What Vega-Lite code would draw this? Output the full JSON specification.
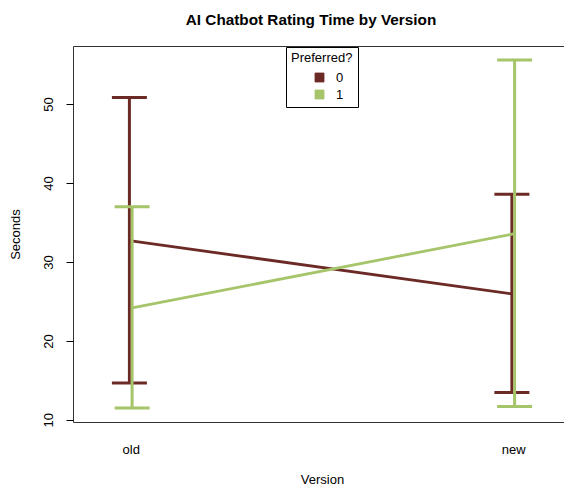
{
  "$schema": "https://vega.github.io/schema/vega-lite/v6.json",
  "width": 498,
  "height": 376,
  "autosize": {"type": "none"},
  "padding": {"left": 73, "top": 46, "right": 0, "bottom": 69},
  "background": "white",
  "config": {
    "view": {"stroke": "#333333", "strokeWidth": 1},
    "font": "Liberation Sans",
    "axis": {"labelFont": "Liberation Sans", "titleFont": "Liberation Sans"},
    "legend": {"labelFont": "Liberation Sans", "titleFont": "Liberation Sans"},
    "tick": {"opacity": 1}
  },
  "title": {
    "text": "AI Chatbot Rating Time by Version",
    "fontSize": 15.3,
    "fontWeight": "bold",
    "font": "Liberation Sans",
    "color": "black",
    "anchor": "middle",
    "frame": "group",
    "baseline": "alphabetic",
    "offset": 6,
    "dx": -11
  },
  "data": {
    "values": [
      {"version": "old", "vcode": 1, "pref": "0", "mean": 32.7, "lo": 14.66, "hi": 50.85},
      {"version": "old", "vcode": 1, "pref": "1", "mean": 24.18, "lo": 11.49, "hi": 37.0},
      {"version": "new", "vcode": 2, "pref": "0", "mean": 25.96, "lo": 13.47, "hi": 38.57},
      {"version": "new", "vcode": 2, "pref": "1", "mean": 33.58, "lo": 11.69, "hi": 55.6}
    ]
  },
  "encoding": {
    "x": {
      "field": "vcode",
      "type": "quantitative",
      "scale": {"domain": [0.849, 2.151], "nice": false, "zero": false},
      "axis": {
        "values": [1, 2],
        "labelExpr": "datum.value == 1 ? 'old' : 'new'",
        "ticks": false,
        "tickSize": 0,
        "domain": false,
        "grid": false,
        "labelFlush": false,
        "labelPadding": 27,
        "labelBaseline": "middle",
        "labelFontSize": 13,
        "labelColor": "black",
        "title": "Version",
        "titleFontSize": 13,
        "titleFontWeight": "normal",
        "titleColor": "black",
        "titleY": 57,
        "titleBaseline": "middle"
      }
    }
  },
  "layer": [
    {
      "mark": {"type": "square", "opacity": 0, "filled": true},
      "encoding": {
        "y": {"field": "mean", "type": "quantitative",
          "scale": {"domain": [9.73, 57.36], "nice": false, "zero": false},
          "axis": {"values": [10, 20, 30, 40, 50], "labelAngle": 270, "labelAlign": "center", "labelBaseline": "middle", "labelPadding": 18, "tickSize": 7, "tickColor": "black", "tickWidth": 1, "domain": false, "grid": false, "labelFontSize": 13, "labelColor": "black", "title": "Seconds", "titleFontSize": 13, "titleFontWeight": "normal", "titleColor": "black", "titleAngle": 270, "titleX": -58, "titleY": 188, "titleAlign": "center", "titleBaseline": "middle"}},
        "color": {
          "field": "pref",
          "type": "nominal",
          "scale": {"domain": ["0", "1"], "range": ["#6C2A26", "#A6C46A"]},
          "legend": {"title": "Preferred?", "orient": "none", "legendX": 213, "legendY": 1, "strokeColor": "black", "fillColor": "white", "padding": 5, "titleFontSize": 13, "titleFontWeight": "normal", "titleColor": "black", "titlePadding": 6, "labelFontSize": 13, "labelColor": "black", "symbolType": "square", "symbolSize": 81, "symbolOffset": 22, "labelOffset": 10, "rowPadding": 3, "symbolOpacity": 1, "symbolStrokeColor": "black", "symbolStrokeWidth": 0.8, "encode": {"symbols": {"update": {"opacity": {"value": 1}, "fill": {"scale": "color", "field": "value"}, "stroke": {"value": "black"}, "strokeWidth": {"value": 0.8}, "size": {"value": 81}, "shape": {"value": "square"}}}}}
        }
      }
    },
    {
      "transform": [{"filter": {"field": "pref", "equal": "0"}}],
      "layer": [
        {
          "mark": {"type": "rule", "strokeWidth": 3, "xOffset": -1.35},
          "encoding": {
            "y": {"field": "lo", "type": "quantitative",
              "axis": {"values": [10, 20, 30, 40, 50], "labelAngle": 270, "labelAlign": "center", "labelBaseline": "middle", "labelPadding": 18, "tickSize": 7, "tickColor": "black", "tickWidth": 1, "domain": false, "grid": false, "labelFontSize": 13, "labelColor": "black", "title": "Seconds", "titleFontSize": 13, "titleFontWeight": "normal", "titleColor": "black", "titleAngle": 270, "titleX": -58, "titleY": 188, "titleAlign": "center", "titleBaseline": "middle"}},
            "y2": {"field": "hi"},
            "color": {"field": "pref", "type": "nominal",
              "legend": {"title": "Preferred?", "orient": "none", "legendX": 213, "legendY": 1, "strokeColor": "black", "fillColor": "white", "padding": 5, "titleFontSize": 13, "titleFontWeight": "normal", "titleColor": "black", "titlePadding": 6, "labelFontSize": 13, "labelColor": "black", "symbolType": "square", "symbolSize": 81, "symbolOffset": 22, "labelOffset": 10, "rowPadding": 3, "symbolOpacity": 1, "symbolStrokeColor": "black", "symbolStrokeWidth": 0.8, "encode": {"symbols": {"update": {"opacity": {"value": 1}, "fill": {"scale": "color", "field": "value"}, "stroke": {"value": "black"}, "strokeWidth": {"value": 0.8}, "size": {"value": 81}, "shape": {"value": "square"}}}}}}
          }
        },
        {
          "mark": {"type": "tick", "orient": "horizontal", "size": 35, "thickness": 3, "opacity": 1, "xOffset": -1.35},
          "encoding": {
            "y": {"field": "lo", "type": "quantitative",
              "axis": {"values": [10, 20, 30, 40, 50], "labelAngle": 270, "labelAlign": "center", "labelBaseline": "middle", "labelPadding": 18, "tickSize": 7, "tickColor": "black", "tickWidth": 1, "domain": false, "grid": false, "labelFontSize": 13, "labelColor": "black", "title": "Seconds", "titleFontSize": 13, "titleFontWeight": "normal", "titleColor": "black", "titleAngle": 270, "titleX": -58, "titleY": 188, "titleAlign": "center", "titleBaseline": "middle"}},
            "color": {"field": "pref", "type": "nominal",
              "legend": {"title": "Preferred?", "orient": "none", "legendX": 213, "legendY": 1, "strokeColor": "black", "fillColor": "white", "padding": 5, "titleFontSize": 13, "titleFontWeight": "normal", "titleColor": "black", "titlePadding": 6, "labelFontSize": 13, "labelColor": "black", "symbolType": "square", "symbolSize": 81, "symbolOffset": 22, "labelOffset": 10, "rowPadding": 3, "symbolOpacity": 1, "symbolStrokeColor": "black", "symbolStrokeWidth": 0.8, "encode": {"symbols": {"update": {"opacity": {"value": 1}, "fill": {"scale": "color", "field": "value"}, "stroke": {"value": "black"}, "strokeWidth": {"value": 0.8}, "size": {"value": 81}, "shape": {"value": "square"}}}}}}
          }
        },
        {
          "mark": {"type": "tick", "orient": "horizontal", "size": 35, "thickness": 3, "opacity": 1, "xOffset": -1.35},
          "encoding": {
            "y": {"field": "hi", "type": "quantitative",
              "axis": {"values": [10, 20, 30, 40, 50], "labelAngle": 270, "labelAlign": "center", "labelBaseline": "middle", "labelPadding": 18, "tickSize": 7, "tickColor": "black", "tickWidth": 1, "domain": false, "grid": false, "labelFontSize": 13, "labelColor": "black", "title": "Seconds", "titleFontSize": 13, "titleFontWeight": "normal", "titleColor": "black", "titleAngle": 270, "titleX": -58, "titleY": 188, "titleAlign": "center", "titleBaseline": "middle"}},
            "color": {"field": "pref", "type": "nominal",
              "legend": {"title": "Preferred?", "orient": "none", "legendX": 213, "legendY": 1, "strokeColor": "black", "fillColor": "white", "padding": 5, "titleFontSize": 13, "titleFontWeight": "normal", "titleColor": "black", "titlePadding": 6, "labelFontSize": 13, "labelColor": "black", "symbolType": "square", "symbolSize": 81, "symbolOffset": 22, "labelOffset": 10, "rowPadding": 3, "symbolOpacity": 1, "symbolStrokeColor": "black", "symbolStrokeWidth": 0.8, "encode": {"symbols": {"update": {"opacity": {"value": 1}, "fill": {"scale": "color", "field": "value"}, "stroke": {"value": "black"}, "strokeWidth": {"value": 0.8}, "size": {"value": 81}, "shape": {"value": "square"}}}}}}
          }
        },
        {
          "mark": {"type": "line", "strokeWidth": 2.8, "xOffset": -1.35},
          "encoding": {
            "y": {"field": "mean", "type": "quantitative",
              "axis": {"values": [10, 20, 30, 40, 50], "labelAngle": 270, "labelAlign": "center", "labelBaseline": "middle", "labelPadding": 18, "tickSize": 7, "tickColor": "black", "tickWidth": 1, "domain": false, "grid": false, "labelFontSize": 13, "labelColor": "black", "title": "Seconds", "titleFontSize": 13, "titleFontWeight": "normal", "titleColor": "black", "titleAngle": 270, "titleX": -58, "titleY": 188, "titleAlign": "center", "titleBaseline": "middle"}},
            "color": {"field": "pref", "type": "nominal",
              "legend": {"title": "Preferred?", "orient": "none", "legendX": 213, "legendY": 1, "strokeColor": "black", "fillColor": "white", "padding": 5, "titleFontSize": 13, "titleFontWeight": "normal", "titleColor": "black", "titlePadding": 6, "labelFontSize": 13, "labelColor": "black", "symbolType": "square", "symbolSize": 81, "symbolOffset": 22, "labelOffset": 10, "rowPadding": 3, "symbolOpacity": 1, "symbolStrokeColor": "black", "symbolStrokeWidth": 0.8, "encode": {"symbols": {"update": {"opacity": {"value": 1}, "fill": {"scale": "color", "field": "value"}, "stroke": {"value": "black"}, "strokeWidth": {"value": 0.8}, "size": {"value": 81}, "shape": {"value": "square"}}}}}}
          }
        }
      ]
    },
    {
      "transform": [{"filter": {"field": "pref", "equal": "1"}}],
      "layer": [
        {
          "mark": {"type": "rule", "strokeWidth": 3, "xOffset": 1.35},
          "encoding": {
            "y": {"field": "lo", "type": "quantitative",
              "axis": {"values": [10, 20, 30, 40, 50], "labelAngle": 270, "labelAlign": "center", "labelBaseline": "middle", "labelPadding": 18, "tickSize": 7, "tickColor": "black", "tickWidth": 1, "domain": false, "grid": false, "labelFontSize": 13, "labelColor": "black", "title": "Seconds", "titleFontSize": 13, "titleFontWeight": "normal", "titleColor": "black", "titleAngle": 270, "titleX": -58, "titleY": 188, "titleAlign": "center", "titleBaseline": "middle"}},
            "y2": {"field": "hi"},
            "color": {"field": "pref", "type": "nominal",
              "legend": {"title": "Preferred?", "orient": "none", "legendX": 213, "legendY": 1, "strokeColor": "black", "fillColor": "white", "padding": 5, "titleFontSize": 13, "titleFontWeight": "normal", "titleColor": "black", "titlePadding": 6, "labelFontSize": 13, "labelColor": "black", "symbolType": "square", "symbolSize": 81, "symbolOffset": 22, "labelOffset": 10, "rowPadding": 3, "symbolOpacity": 1, "symbolStrokeColor": "black", "symbolStrokeWidth": 0.8, "encode": {"symbols": {"update": {"opacity": {"value": 1}, "fill": {"scale": "color", "field": "value"}, "stroke": {"value": "black"}, "strokeWidth": {"value": 0.8}, "size": {"value": 81}, "shape": {"value": "square"}}}}}}
          }
        },
        {
          "mark": {"type": "tick", "orient": "horizontal", "size": 35, "thickness": 3, "opacity": 1, "xOffset": 1.35},
          "encoding": {
            "y": {"field": "lo", "type": "quantitative",
              "axis": {"values": [10, 20, 30, 40, 50], "labelAngle": 270, "labelAlign": "center", "labelBaseline": "middle", "labelPadding": 18, "tickSize": 7, "tickColor": "black", "tickWidth": 1, "domain": false, "grid": false, "labelFontSize": 13, "labelColor": "black", "title": "Seconds", "titleFontSize": 13, "titleFontWeight": "normal", "titleColor": "black", "titleAngle": 270, "titleX": -58, "titleY": 188, "titleAlign": "center", "titleBaseline": "middle"}},
            "color": {"field": "pref", "type": "nominal",
              "legend": {"title": "Preferred?", "orient": "none", "legendX": 213, "legendY": 1, "strokeColor": "black", "fillColor": "white", "padding": 5, "titleFontSize": 13, "titleFontWeight": "normal", "titleColor": "black", "titlePadding": 6, "labelFontSize": 13, "labelColor": "black", "symbolType": "square", "symbolSize": 81, "symbolOffset": 22, "labelOffset": 10, "rowPadding": 3, "symbolOpacity": 1, "symbolStrokeColor": "black", "symbolStrokeWidth": 0.8, "encode": {"symbols": {"update": {"opacity": {"value": 1}, "fill": {"scale": "color", "field": "value"}, "stroke": {"value": "black"}, "strokeWidth": {"value": 0.8}, "size": {"value": 81}, "shape": {"value": "square"}}}}}}
          }
        },
        {
          "mark": {"type": "tick", "orient": "horizontal", "size": 35, "thickness": 3, "opacity": 1, "xOffset": 1.35},
          "encoding": {
            "y": {"field": "hi", "type": "quantitative",
              "axis": {"values": [10, 20, 30, 40, 50], "labelAngle": 270, "labelAlign": "center", "labelBaseline": "middle", "labelPadding": 18, "tickSize": 7, "tickColor": "black", "tickWidth": 1, "domain": false, "grid": false, "labelFontSize": 13, "labelColor": "black", "title": "Seconds", "titleFontSize": 13, "titleFontWeight": "normal", "titleColor": "black", "titleAngle": 270, "titleX": -58, "titleY": 188, "titleAlign": "center", "titleBaseline": "middle"}},
            "color": {"field": "pref", "type": "nominal",
              "legend": {"title": "Preferred?", "orient": "none", "legendX": 213, "legendY": 1, "strokeColor": "black", "fillColor": "white", "padding": 5, "titleFontSize": 13, "titleFontWeight": "normal", "titleColor": "black", "titlePadding": 6, "labelFontSize": 13, "labelColor": "black", "symbolType": "square", "symbolSize": 81, "symbolOffset": 22, "labelOffset": 10, "rowPadding": 3, "symbolOpacity": 1, "symbolStrokeColor": "black", "symbolStrokeWidth": 0.8, "encode": {"symbols": {"update": {"opacity": {"value": 1}, "fill": {"scale": "color", "field": "value"}, "stroke": {"value": "black"}, "strokeWidth": {"value": 0.8}, "size": {"value": 81}, "shape": {"value": "square"}}}}}}
          }
        },
        {
          "mark": {"type": "line", "strokeWidth": 2.8, "xOffset": 1.35},
          "encoding": {
            "y": {"field": "mean", "type": "quantitative",
              "axis": {"values": [10, 20, 30, 40, 50], "labelAngle": 270, "labelAlign": "center", "labelBaseline": "middle", "labelPadding": 18, "tickSize": 7, "tickColor": "black", "tickWidth": 1, "domain": false, "grid": false, "labelFontSize": 13, "labelColor": "black", "title": "Seconds", "titleFontSize": 13, "titleFontWeight": "normal", "titleColor": "black", "titleAngle": 270, "titleX": -58, "titleY": 188, "titleAlign": "center", "titleBaseline": "middle"}},
            "color": {"field": "pref", "type": "nominal",
              "legend": {"title": "Preferred?", "orient": "none", "legendX": 213, "legendY": 1, "strokeColor": "black", "fillColor": "white", "padding": 5, "titleFontSize": 13, "titleFontWeight": "normal", "titleColor": "black", "titlePadding": 6, "labelFontSize": 13, "labelColor": "black", "symbolType": "square", "symbolSize": 81, "symbolOffset": 22, "labelOffset": 10, "rowPadding": 3, "symbolOpacity": 1, "symbolStrokeColor": "black", "symbolStrokeWidth": 0.8, "encode": {"symbols": {"update": {"opacity": {"value": 1}, "fill": {"scale": "color", "field": "value"}, "stroke": {"value": "black"}, "strokeWidth": {"value": 0.8}, "size": {"value": 81}, "shape": {"value": "square"}}}}}}
          }
        }
      ]
    }
  ]
}
